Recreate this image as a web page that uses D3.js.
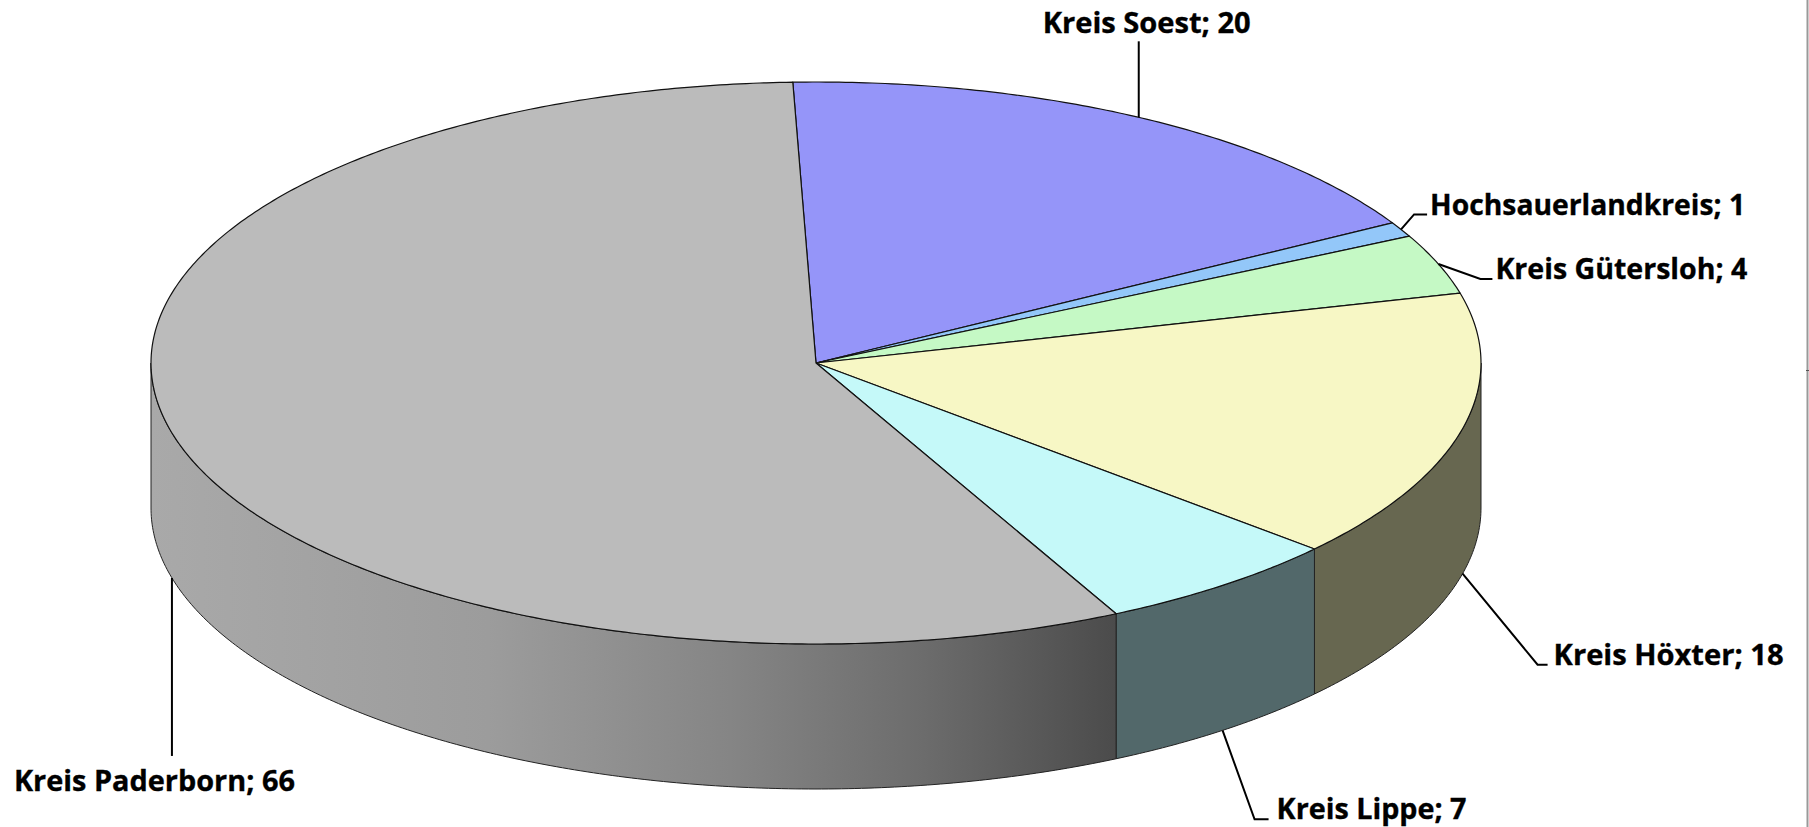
<!DOCTYPE html>
<html>
<head>
<meta charset="utf-8">
<script src="https://cdn.jsdelivr.net/npm/d3@7"></script>
<style>
  html, body { margin: 0; background: #fff; }
  svg { display: block; }
  text { font-family: "Open Sans", sans-serif; font-weight: 700; font-size: 29px; fill: #000; stroke: #000; stroke-width: 0.35px; }
</style>
</head>
<body>
<svg width="1809" height="827"></svg>
<script>
const names = ['Kreis Soest', 'Hochsauerlandkreis', 'Kreis Gütersloh', 'Kreis Höxter', 'Kreis Lippe', 'Kreis Paderborn']
const values = [20, 1, 4, 18, 7, 66]
const topColors = ['#9595f9', '#93c7f9', '#c5f9c5', '#f7f7c5', '#c5f9f9', '#bbbbbb']
const sideColors = ['#4f4f7a', '#4f6a7a', '#5f7a5f', '#676750', '#52686a', 'url(#side-grey)']

// leader bends and label position, relative to where the leader leaves the pie
const leaderBends = [
  [[0, -76]],
  [[13, -15], [26, -15]],
  [[42, 15], [54, 15]],
  [[75, 91], [85, 91]],
  [[32, 89], [46, 89]],
  [[0, 178]]
]
const labelOffsets = [
  [-96, -84],
  [29, -14],
  [57, 15],
  [91, 91],
  [54, 89],
  [-158, 213]
]
// open sans runs a bit wider than the original font on some labels
const labelWidths = [208, 315, 252, 230, 190, 281]

const svg = d3.select('svg')
const cx = 816, cy = 363, rx = 665, ry = 281, depth = 145
const rotation = -2 * Math.PI / 180

const defs = svg.append('defs')
const grad = defs.append('linearGradient')
  .attr('id', 'side-grey')
  .attr('gradientUnits', 'userSpaceOnUse')
  .attr('x1', 150).attr('x2', 1117).attr('y1', 0).attr('y2', 0)
grad.selectAll('stop')
  .data([[0, '#a9a9a9'], [0.35, '#9c9c9c'], [0.6, '#858585'], [0.8, '#6c6c6c'], [1, '#4b4b4b']])
  .join('stop')
  .attr('offset', d => d[0])
  .attr('stop-color', d => d[1])

const pie = d3.pie().sort(null)
  .startAngle(rotation)
  .endAngle(rotation + 2 * Math.PI)
const slices = pie(values)

const px = d3.scaleLinear().domain([-1, 1]).range([cx - rx, cx + rx])
const py = d3.scaleLinear().domain([-1, 1]).range([cy - ry, cy + ry])

function pt(a, drop) {
  return [px(Math.sin(a)), py(-Math.cos(a)) + (drop || 0)]
}

function samples(a0, a1, drop) {
  let n = Math.max(2, Math.ceil(Math.abs(a1 - a0) / 0.01))
  return d3.range(n + 1).map(i => pt(a0 + (a1 - a0) * i / n, drop))
}

const line = d3.line()

// side walls, only the front half of the rim shows
const sides = svg.append('g')
slices.forEach(function(d, i) {
  let a0 = Math.max(d.startAngle, Math.PI / 2)
  let a1 = Math.min(d.endAngle, 3 * Math.PI / 2)
  if (a1 <= a0) return
  let pts = samples(a0, a1, 0).concat(samples(a1, a0, depth))
  sides.append('path')
    .attr('d', line(pts) + 'Z')
    .attr('fill', sideColors[i])
    .attr('stroke', '#222')
    .attr('stroke-width', 1)
    .attr('stroke-linejoin', 'round')
})

// top face
svg.append('g')
  .selectAll('path')
  .data(slices)
  .join('path')
  .attr('d', d => line([[cx, cy]].concat(samples(d.startAngle, d.endAngle, 0))) + 'Z')
  .attr('fill', (d, i) => topColors[i])
  .attr('stroke', '#111')
  .attr('stroke-width', 1.2)
  .attr('stroke-linejoin', 'round')

// leaders and labels
const labels = svg.append('g')
slices.forEach(function(d, i) {
  let mid = (d.startAngle + d.endAngle) / 2
  let front = Math.cos(mid) < 0
  let start = pt(mid, front ? depth : 0)
  let pts = [start].concat(leaderBends[i].map(b => [start[0] + b[0], start[1] + b[1]]))
  labels.append('path')
    .attr('d', line(pts))
    .attr('fill', 'none')
    .attr('stroke', '#000')
    .attr('stroke-width', 2)
  labels.append('text')
    .attr('x', start[0] + labelOffsets[i][0])
    .attr('y', start[1] + labelOffsets[i][1])
    .attr('textLength', labelWidths[i])
    .attr('lengthAdjust', 'spacingAndGlyphs')
    .text(names[i] + '; ' + d.value)
})

// thin frame remains at the right edge of the picture
svg.append('line')
  .attr('x1', 1807.5).attr('x2', 1807.5)
  .attr('y1', 0).attr('y2', 827)
  .attr('stroke', '#999')
  .attr('stroke-width', 2)
svg.append('line')
  .attr('x1', 1806).attr('x2', 1809)
  .attr('y1', 370.5).attr('y2', 370.5)
  .attr('stroke', '#555')
</script>
</body>
</html>
